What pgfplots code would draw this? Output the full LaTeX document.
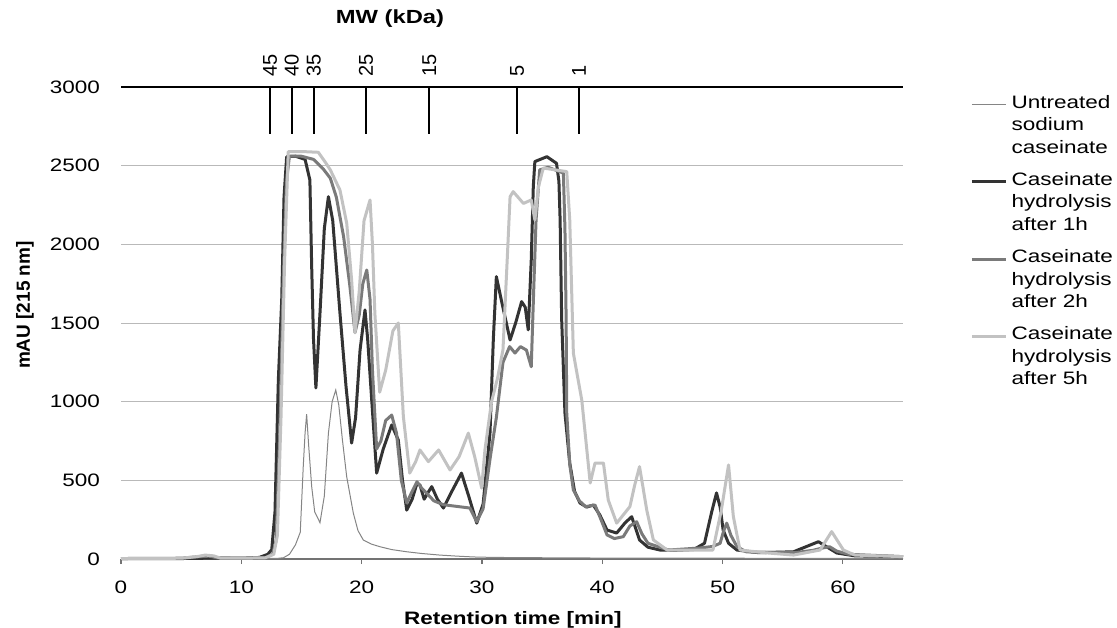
\documentclass[border=0pt]{standalone}
\usepackage{fontspec}
\setmainfont{Liberation Sans}[FakeStretch=1.25]
\newfontfamily\rotfont{Liberation Sans}
\usepackage{pgfplots}
\pgfplotsset{compat=1.18}
\definecolor{cUntr}{HTML}{858585}
\definecolor{cOne}{HTML}{333333}
\definecolor{cTwo}{HTML}{7A7A7A}
\definecolor{cFive}{HTML}{C2C2C2}

\begin{document}
\begin{tikzpicture}
\begin{axis}[
  scale only axis, width=391pt, height=236pt,
  xmin=0, xmax=65, ymin=0, ymax=3000,
  clip=false,
  axis x line*=bottom, axis y line*=left,
  y axis line style={draw=none},
  x axis line style={draw=gray!90!black, line width=0.6pt},
  xtick={0,10,...,60}, ytick={0,500,...,2500},
  extra y ticks={3000},
  extra y tick style={grid style={black, line width=0.8pt}, ytick style={draw=none}},
  ymajorgrids, grid style={gray!55, line width=0.5pt},
  xtick align=outside, major tick length=2.5pt,
  xtick style={gray!90!black, line width=0.6pt},
  ytick style={draw=none},
  scaled y ticks=false,
  /pgf/number format/1000 sep={},
  /pgf/number format/assume math mode=true,
  xticklabel style={font=\fontsize{9}{10}\selectfont, yshift=-5pt},
  yticklabel style={font=\fontsize{9}{10}\selectfont, xshift=-7pt},
  xlabel={\bfseries Retention time [min]},
  xlabel style={at={(axis description cs:0.501,-0.129)}, anchor=center, font=\fontsize{9}{10}\selectfont},
  ylabel={\rotfont\bfseries mAU [215 nm]},
  ylabel style={at={(axis description cs:-0.1228,0.538)}, anchor=center, font=\fontsize{9.5}{11}\selectfont},
  legend style={at={(axis description cs:1.0857,0.992)}, anchor=north west, draw=none, fill=none,
    font=\fontsize{9}{11.2}\selectfont, row sep=4.2pt, cells={align=left}, inner sep=0pt},
  legend cell align=left,
  legend image code/.code={\draw[#1] (0cm,10.5pt) -- (0.6cm,10.5pt);},
]
\coordinate (bl) at (rel axis cs:0,0);
\coordinate (tr) at (rel axis cs:1,1);

% untreated sodium caseinate
\addplot[cUntr, line width=0.5pt] coordinates {
(0,2)(5,2)(10,3)(12,3)(13,4)(13.5,8)(14,30)(14.5,90)(14.9,170)(15.15,590)(15.3,800)
(15.43,921)(15.6,720)(15.85,460)(16.1,300)(16.54,231)(16.9,400)(17.24,800)(17.55,1000)
(17.85,1074)(18.1,980)(18.4,760)(18.76,523)(19.31,292)(19.7,180)(20.14,121)(20.8,95)
(21.53,78)(22.5,60)(23.75,46)(25,35)(26.5,25)(28,18)(29.3,13)(31,10)(35,8)(40,6)
(50,5)(60,4)(65,4)};
\addlegendentry{Untreated\\sodium\\caseinate}

% hydrolysis after 1h
\addplot[cOne, line width=1.5pt, line join=round] coordinates {
(0,3)(5,3)(7,5)(10,5)(11.5,10)(12.2,30)(12.53,60)(12.8,300)(13.08,1140)(13.36,1650)
(13.55,2300)(13.77,2557)(14.5,2560)(15.3,2540)(15.7,2409)(15.85,1858)(16.0,1400)
(16.2,1087)(16.54,1563)(16.9,2100)(17.24,2303)(17.6,2150)(18.2,1563)(18.7,1100)
(19.17,737)(19.5,900)(19.87,1328)(20.28,1583)(20.5,1400)(20.84,1010)(21.25,546)
(21.8,700)(22.5,852)(23.05,756)(23.4,500)(23.75,311)(24.2,380)(24.6,480)(24.85,470)
(25.2,380)(25.5,420)(25.83,460)(26.3,380)(26.8,324)(27.5,430)(28.3,546)(28.9,400)
(29.57,228)(30.1,350)(30.67,800)(30.95,1400)(31.2,1795)(31.6,1650)(32.34,1392)
(32.8,1500)(33.3,1636)(33.6,1600)(33.85,1456)(34.1,1900)(34.27,2366)(34.4,2526)
(35.4,2557)(36.2,2515)(36.4,2400)(36.5,2155)(36.63,1519)(36.9,928)(37.3,610)
(37.7,430)(38.15,356)(38.7,330)(39.26,343)(39.8,280)(40.4,184)(41.2,165)(41.9,230)
(42.45,269)(43.1,121)(43.8,75)(44.8,57)(46,55)(47.6,60)(48.5,100)(49.1,300)(49.5,420)
(49.8,330)(50.05,184)(50.5,100)(51.2,57)(53,40)(55.9,46)(57.0,80)(57.97,110)
(58.6,80)(59.5,38)(61,20)(65,15)};
\addlegendentry{Caseinate\\hydrolysis\\after 1h}

% hydrolysis after 2h
\addplot[cTwo, line width=1.5pt, line join=round] coordinates {
(0,3)(5,5)(6.5,15)(7.3,18)(8,8)(10,5)(12,8)(12.6,30)(12.9,120)(13.2,800)(13.5,1800)
(13.75,2400)(14.0,2560)(15,2560)(16,2540)(16.8,2480)(17.4,2420)(17.9,2300)(18.5,2050)
(19.0,1750)(19.45,1440)(19.8,1550)(20.1,1750)(20.43,1837)(20.7,1650)(20.9,1200)
(21.25,700)(21.6,750)(22.0,880)(22.5,915)(22.9,800)(23.3,500)(23.75,356)(24.2,430)
(24.6,491)(25.0,450)(25.4,419)(26.0,370)(26.8,345)(29.0,324)(29.57,237)(30.1,320)
(30.7,650)(31.2,900)(31.75,1250)(32.3,1350)(32.75,1309)(33.2,1350)(33.7,1328)
(34.1,1222)(34.3,1700)(34.5,2155)(34.8,2473)(35.5,2490)(36.77,2453)(36.9,2100)
(37.0,1519)(37.05,928)(37.3,600)(37.6,439)(38.1,370)(38.6,333)(39.4,343)(39.9,250)
(40.4,153)(41.0,130)(41.75,142)(42.3,210)(42.86,237)(43.3,160)(43.8,100)(45.5,57)
(48.1,70)(49.2,80)(49.8,100)(50.1,180)(50.35,228)(50.7,150)(51.2,78)(52,45)(56,40)
(57.5,55)(58.3,70)(58.9,78)(59.5,50)(60.5,30)(65,15)};
\addlegendentry{Caseinate\\hydrolysis\\after 2h}

% hydrolysis after 5h
\addplot[cFive, line width=1.5pt, line join=round] coordinates {
(0,3)(5,5)(6.3,15)(7.0,25)(7.7,20)(8.3,5)(10,5)(12,8)(12.7,30)(13.0,150)(13.3,900)
(13.6,1900)(13.9,2589)(15,2590)(16.4,2585)(17.0,2520)(17.4,2473)(18.2,2345)
(18.76,2135)(19.17,1773)(19.45,1437)(19.8,1700)(20.2,2150)(20.7,2282)(20.9,2000)
(21.1,1563)(21.5,1060)(22.0,1200)(22.6,1450)(23.05,1500)(23.47,905)(24.0,546)
(24.5,620)(24.85,693)(25.55,619)(26.4,693)(27.35,566)(28.1,650)(28.87,800)(29.4,650)
(29.98,451)(30.25,693)(30.8,1000)(31.3,1150)(31.75,1330)(32.1,1900)(32.34,2303)
(32.6,2335)(33.45,2260)(34.1,2282)(34.4,2155)(34.7,2366)(35.1,2485)(37.05,2462)
(37.3,2155)(37.6,1309)(37.9,1180)(38.3,1010)(39.0,483)(39.4,610)(40.1,610)(40.5,375)
(41.2,228)(42.3,333)(42.7,470)(43.1,587)(43.4,450)(43.7,311)(44.25,121)(45.4,57)
(49.2,57)(49.9,311)(50.5,598)(50.9,269)(51.45,57)(53.5,40)(55.9,25)(58.1,57)
(59.07,174)(60.05,57)(61,25)(65,15)};
\addlegendentry{Caseinate\\hydrolysis\\after 5h}

% MW markers
\addplot[black, line width=1.1pt, unbounded coords=jump, forget plot] coordinates {
(12.39,3000)(12.39,2700)(12.39,nan)
(14.19,3000)(14.19,2700)(14.19,nan)
(16.02,3000)(16.02,2700)(16.02,nan)
(20.37,3000)(20.37,2700)(20.37,nan)
(25.63,3000)(25.63,2700)(25.63,nan)
(32.92,3000)(32.92,2700)(32.92,nan)
(38.07,3000)(38.07,2700)};
\addplot[draw=none, forget plot, nodes near coords, point meta=explicit symbolic,
  nodes near coords style={font=\rotfont\fontsize{10}{11}\selectfont, rotate=90,
  anchor=west, inner xsep=5pt, inner ysep=0pt, text=black}]
  table[meta=lab] {
x y lab
12.39 3000 45
14.19 3000 40
16.02 3000 35
20.37 3000 25
25.63 3000 15
32.92 3000 5
38.07 3000 1
};
\node[font=\fontsize{9.5}{11}\selectfont\bfseries] at (axis description cs:0.344,1.146) {MW (kDa)};
\end{axis}
\pgfresetboundingbox
\path[use as bounding box] ([shift={(-60.5pt,-34pt)}]bl) rectangle ([shift={(107pt,43.5pt)}]tr);
\end{tikzpicture}
\end{document}
